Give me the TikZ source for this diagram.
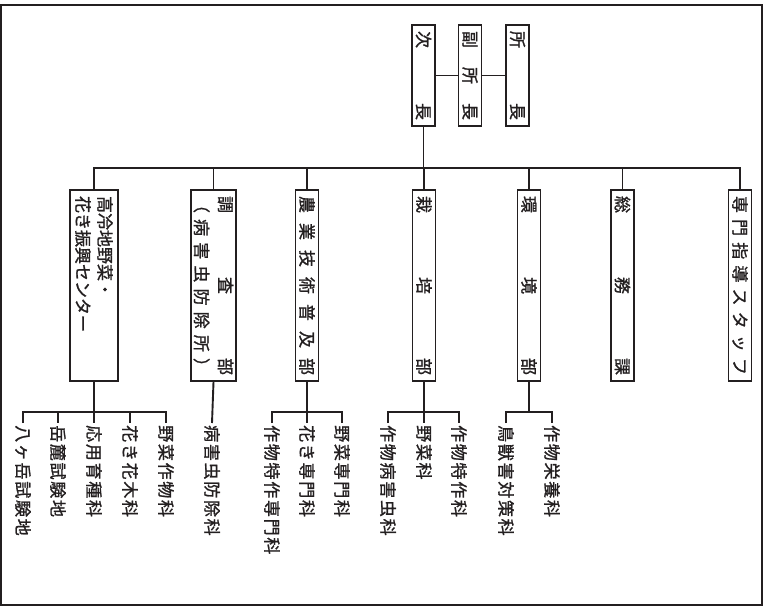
\documentclass[tikz,border=0pt]{standalone}
\usepackage{fontspec}
\newfontfamily\jp[FakeBold=1.2]{Noto Sans CJK JP}
\newfontfamily\jpsp[LetterSpace=10,FakeBold=1.2]{Noto Sans CJK JP}
\usepackage{tikz}
\usetikzlibrary{calc}
\definecolor{ink}{HTML}{231F20}
\setlength{\parindent}{0pt}

\begin{document}
\begin{tikzpicture}[x=1pt,y=-1pt,
  post/.style={draw=ink, line width=1.9pt, rotate=-90, inner xsep=6pt, inner ysep=1pt,
    minimum height=23pt, text=ink, font=\jp\fontsize{17}{22}\selectfont},
  toppost/.style={post, text width=89pt},
  dept/.style={post, text width=179pt},
  section/.style={rotate=-90, anchor=west, inner sep=2pt, text=ink,
    font=\jpsp\fontsize{17}{20}\selectfont},
  link/.style={draw=ink, line width=1.9pt}]
\useasboundingbox (0,0) rectangle (768,607);
\draw[ink, line width=2pt] (1,5) rectangle (762.3,605.3);

\node[toppost] (jicho) at (423.5,75.5) {次\hfill 長};
\node[toppost] (fuku) at (470,75.5) {副\hfill 所\hfill 長};
\node[toppost] (shocho) at (517.5,75.5) {所\hfill 長};
\draw[link] (jicho) -- (fuku) (fuku) -- (shocho);

\node[dept, minimum height=48pt] (kogen) at (94,285.5) {高冷地野菜・\\花き振興センター};
\node[dept, minimum height=45pt, font=\jp\fontsize{17}{24}\selectfont] (chosa) at (213.5,285.5)
  {調\hfill 査\hfill 部\\（\hfill 病\hfill 害\hfill 虫\hfill 防\hfill 除\hfill 所\hfill ）};
\node[dept] (fukyu) at (307,285.5) {農\hfill 業\hfill 技\hfill 術\hfill 普\hfill 及\hfill 部};
\node[dept] (saibai) at (424,285.5) {栽\hfill 培\hfill 部};
\node[dept] (kankyo) at (529,285.5) {環\hfill 境\hfill 部};
\node[dept] (somu) at (622.5,285.5) {総\hfill 務\hfill 課};
\node[dept] (senmon) at (740,285.5) {専\hfill 門\hfill 指\hfill 導\hfill ス\hfill タ\hfill ッ\hfill フ};

\coordinate (bus) at (0,168);
\draw[link] (jicho.east) -- (jicho.east |- bus);
\draw[link] (kogen.west) |- (senmon.west |- bus) -- (senmon.west);
\foreach \n in {chosa,fukyu,saibai,kankyo,somu}
  \draw[link] (\n.west |- bus) -- (\n.west);

\node[section] (yatsu) at (23,423) {八ヶ岳試験地};
\node[section] (gakuroku) at (58,423) {岳麓試験地};
\node[section] (oyo) at (94,423) {応用育種科};
\node[section] (kaki) at (130,423) {花き花木科};
\node[section] (yasaisaku) at (166,423) {野菜作物科};
\node[section] (byochu) at (212,423) {病害虫防除科};
\node[section] (tokusen) at (272,423) {作物特作専門科};
\node[section] (kasen) at (307,423) {花き専門科};
\node[section] (yasen) at (342,423) {野菜専門科};
\node[section] (byogai) at (388,423) {作物病害虫科};
\node[section] (yasai) at (424,423) {野菜科};
\node[section] (tokusaku) at (459,423) {作物特作科};
\node[section] (chojyu) at (506,423) {鳥獣害対策科};
\node[section] (eiyo) at (552,423) {作物栄養科};

\coordinate (sub) at (0,412);
\draw[link] (kogen.east) -- (kogen.east |- sub);
\draw[link] (yatsu.west) |- (yasaisaku.west |- sub) -- (yasaisaku.west);
\foreach \n in {gakuroku,oyo,kaki}
  \draw[link] (\n.west |- sub) -- (\n.west);
\draw[link] (chosa.east) -- (byochu.west);
\draw[link] (fukyu.east) -- (fukyu.east |- sub);
\draw[link] (tokusen.west) |- (yasen.west |- sub) -- (yasen.west);
\draw[link] (kasen.west |- sub) -- (kasen.west);
\draw[link] (saibai.east) -- (saibai.east |- sub);
\draw[link] (byogai.west) |- (tokusaku.west |- sub) -- (tokusaku.west);
\draw[link] (yasai.west |- sub) -- (yasai.west);
\draw[link] (kankyo.east) -- (kankyo.east |- sub);
\draw[link] (chojyu.west) |- (eiyo.west |- sub) -- (eiyo.west);
\end{tikzpicture}
\end{document}
